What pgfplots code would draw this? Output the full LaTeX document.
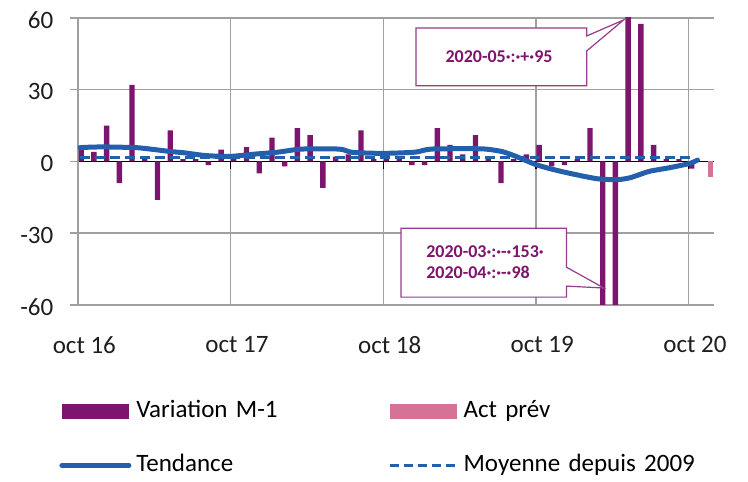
\documentclass[border=0pt]{standalone}
\usepackage{fontspec}
\setmainfont{Carlito}
\usepackage{pgfplots}
\usepackage{pgfplotstable}
\pgfplotsset{compat=1.18}
\definecolor{barpurple}{RGB}{125,20,110}
\definecolor{barpink}{RGB}{212,115,150}
\definecolor{trendblue}{RGB}{35,95,170}
\definecolor{gridgrey}{RGB}{160,160,160}
\definecolor{callpurple}{RGB}{150,60,140}
\definecolor{txtpurple}{RGB}{125,20,110}
\definecolor{ticktext}{RGB}{30,30,30}

\pgfplotstableread{
x y
0.25 5
1.25 4
2.25 15
3.25 -9
4.25 32
5.25 2
6.25 -16
7.25 13
8.25 1
9.25 1
10.25 -1.5
11.25 5
12.25 1
13.25 6
14.25 -5
15.25 10
16.25 -2
17.25 14
18.25 11
19.25 -11
20.25 2
21.25 3
22.25 13
23.25 1
24.25 1
25.25 1
26.25 -1.5
27.25 -1.5
28.25 14
29.25 7
30.25 3
31.25 11
32.25 2
33.25 -9
34.25 1
35.25 3
36.25 7
37.25 -2
38.25 -1.5
39.25 1
40.25 14
41.25 -153
42.25 -98
43.25 95
44.25 57.5
45.25 7
46.25 1
47.25 1
48.25 -3
}\varm

\pgfplotstableread{
x y
49.7 -6.5
}\actprev

\pgfplotstableread{
x y
0.15 5.8
1 6
2 6.1
3 6
4.6 5.8
6 5
7.2 4.2
8.4 3.6
10 2.5
11.9 2.1
13.7 3.0
15.7 3.9
17.3 5.1
18.5 5.3
20 5.3
20.8 5.0
21.6 3.8
24 3.4
26.5 3.9
27.8 5.2
31.7 5.3
33.3 4.2
34.3 2.4
35.4 0
36 -1.3
37.1 -3
38.7 -5
40.8 -7.2
42.4 -7.6
43.4 -6.8
44.4 -5
45 -4
46.5 -2.6
48.1 -0.8
48.7 0.6
}\tendance

\pgfplotstableread{
x y
0.15 1.6
48.4 1.6
}\moyenne

\begin{document}
\fontsize{12.5}{15}\selectfont
\begin{tikzpicture}
\useasboundingbox (0,0) rectangle (374pt,240.5pt);
\begin{axis}[
  at={(39pt,88pt)}, anchor=south west,
  scale only axis, width=318pt, height=143.5pt,
  xmin=0, xmax=50, ymin=-60, ymax=60,
  axis x line*=middle, axis y line*=left,
  x axis line style={black, line width=0.75pt},
  y axis line style={gridgrey, line width=0.75pt},
  xtick={0,12,24,36,48}, xticklabels={},
  ytick={-60,-30,0,30,60},
  yticklabels={-60,-30,0,30,60},
  extra x ticks={0.5,12.5,24.5,36.5,48.5},
  extra x tick labels={oct 16,oct 17,oct 18,oct 19,oct 20},
  extra x tick style={grid=none, major tick length=0pt,
     xticklabel style={yshift=-83pt}},
  tick align=outside,
  major tick length=4pt,
  x tick style={black, line width=0.75pt},
  y tick style={gridgrey, line width=0.75pt},
  grid=major,
  major grid style={gridgrey, line width=0.75pt},
  tick label style={font=\fontsize{12.5}{15}\selectfont, text=ticktext},
  yticklabel style={xshift=-4pt, yshift=-1pt},
  legend columns=2,
  legend cell align=left,
  legend style={at={(-0.0393,-0.3136)}, anchor=north west, draw=none, fill=none,
     font=\fontsize{12.5}{15}\selectfont,
     nodes={inner sep=0pt, text width=126pt, align=left, text height=9pt, text depth=3pt},
     row sep=15pt,
     /tikz/every odd column/.append style={column sep=2.5pt}},
]
\addplot[ybar, bar width=0.42, bar shift=0pt, fill=barpurple, draw=none,
  legend image code/.code={\fill[barpurple] (0pt,-3.75pt) rectangle (33.5pt,3.75pt);}]
  table[x=x,y=y] {\varm};
\addlegendentry{Variation M-1}
\addplot[ybar, bar width=0.42, bar shift=0pt, fill=barpink, draw=none,
  legend image code/.code={\fill[barpink] (0pt,-3.75pt) rectangle (33.5pt,3.75pt);}]
  table[x=x,y=y] {\actprev};
\addlegendentry{Act prév}
\addplot[trendblue, line width=2.5pt, line join=round, line cap=round, smooth, tension=0.4, mark=none,
  legend image code/.code={\draw[trendblue, line width=2.5pt] (0pt,0pt) -- (33.5pt,0pt);}]
  table[x=x,y=y] {\tendance};
\addlegendentry{Tendance}
\addplot[trendblue, line width=1.6pt, dash pattern=on 5pt off 2.5pt, mark=none,
  legend image code/.code={\draw[trendblue, line width=1.6pt, dash pattern=on 4.5pt off 2.5pt] (0pt,0pt) -- (33.5pt,0pt);}]
  table[x=x,y=y] {\moyenne};
\addlegendentry{Moyenne depuis 2009}

% callouts
\draw[callpurple, line width=0.6pt, fill=white]
  (axis cs:26.57,55.8) -- (axis cs:40,55.8) -- (axis cs:40,52.5) -- (axis cs:42.9,59.2)
  -- (axis cs:40,46.25) -- (axis cs:40,31.7) -- (axis cs:26.57,31.7) -- cycle;
\node[text=txtpurple, font=\fontsize{9}{10.5}\selectfont\bfseries]
  at (axis cs:33.1,43.75) {2020-05·:·+·95};
\draw[callpurple, line width=0.6pt, fill=white]
  (axis cs:25.4,-27.9) -- (axis cs:38.4,-27.9) -- (axis cs:38.4,-44.2) -- (axis cs:41.35,-52.9)
  -- (axis cs:38.4,-52.1) -- (axis cs:38.4,-56.7) -- (axis cs:25.4,-56.7) -- cycle;
\node[text=txtpurple, font=\fontsize{9}{10.5}\selectfont\bfseries, align=left]
  at (axis cs:32.0,-42.1) {2020-03·:·-·153·\\2020-04·:·-·98};
\end{axis}
\end{tikzpicture}
\end{document}
